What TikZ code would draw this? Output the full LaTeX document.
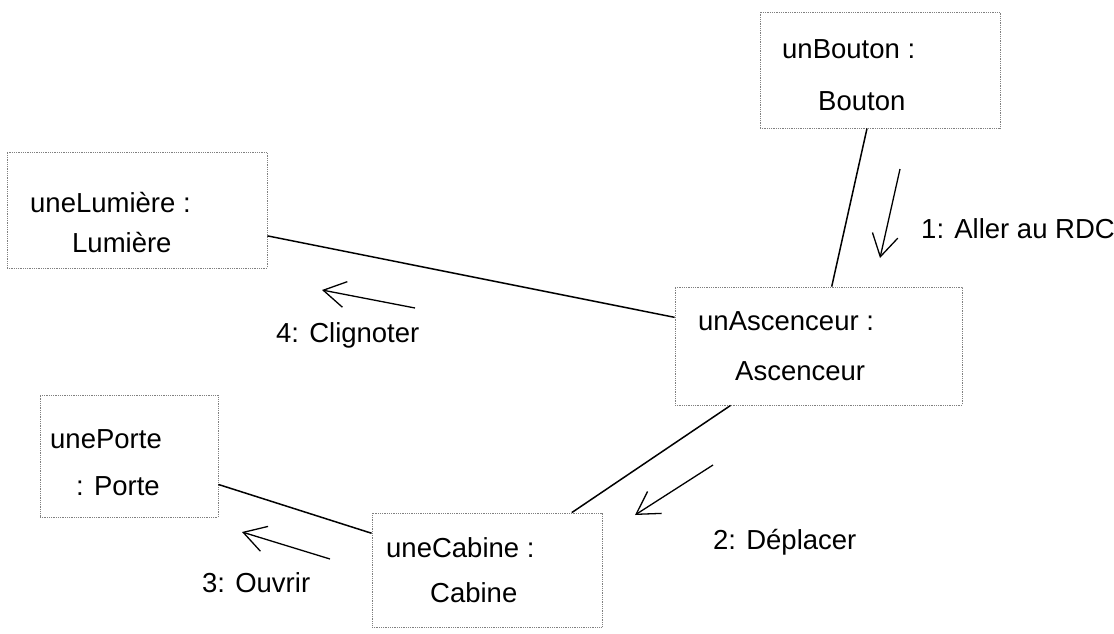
\documentclass[tikz,border=0pt]{standalone}
\usepackage{fontspec}
\setmainfont{Liberation Sans}
\usetikzlibrary{arrows.meta}
\begin{document}
\begin{tikzpicture}[x=1pt,y=-1pt,
  objbox/.style={draw=black!50, densely dotted, line width=0.8pt, rectangle, inner sep=0pt},
  lbl/.style={anchor=base west, inner sep=0pt, font=\fontsize{27.5}{31}\selectfont},
  link/.style={line width=1.5pt, black},
  msg/.style={line width=1.3pt, black, -{Straight Barb[length=22pt,width=26pt,line width=1.3pt]}}]
\useasboundingbox (0,0) rectangle (1114,633);
\fill[white] (0,0) rectangle (1114,633);
% objects
\node[objbox, minimum width=240pt, minimum height=116pt] (bouton) at (880,70) {};
\node[objbox, minimum width=260pt, minimum height=116pt] (lumiere) at (137,210) {};
\node[objbox, minimum width=287pt, minimum height=118pt] (asc) at (818.5,346) {};
\node[objbox, minimum width=178pt, minimum height=122pt] (porte) at (129,456) {};
\node[objbox, minimum width=230pt, minimum height=114pt] (cabine) at (487,570) {};
% object texts
\node[lbl] (t1a) at (782,58) {unBouton :};
\node[lbl] (t1b) at (818,110) {Bouton};
\node[lbl] (t2a) at (30,212) {uneLumière :};
\node[lbl] (t2b) at (72,252) {Lumière};
\node[lbl] (t3a) at (698,330) {unAscenceur :};
\node[lbl] (t3b) at (735,380) {Ascenceur};
\node[lbl] (t4a) at (50,448) {unePorte};
\node[lbl] (t4b) at (76,495) {: Porte};
\node[lbl] (t5a) at (386,557) {uneCabine :};
\node[lbl] (t5b) at (430,602) {Cabine};
% links
\draw[link] (bouton) -- (asc);
\draw[link] (lumiere) -- (asc);
\draw[link] (asc) -- (cabine);
\draw[link] (porte) -- (cabine);
% messages
\coordinate (m1s) at (900,169); \coordinate (m1e) at (880,258);
\coordinate (m4s) at (415,308); \coordinate (m4e) at (322,290);
\coordinate (m2s) at (713,465); \coordinate (m2e) at (635,515);
\coordinate (m3s) at (330,559); \coordinate (m3e) at (242,532);
\draw[msg] (m1s) -- (m1e);
\draw[msg] (m4s) -- (m4e);
\draw[msg] (m2s) -- (m2e);
\draw[msg] (m3s) -- (m3e);
\node[lbl] (l1) at (921,238) {1: Aller au RDC};
\node[lbl] (l4) at (276,342) {4: Clignoter};
\node[lbl] (l2) at (713,549) {2: Déplacer};
\node[lbl] (l3) at (202,592) {3: Ouvrir};
\end{tikzpicture}
\end{document}
